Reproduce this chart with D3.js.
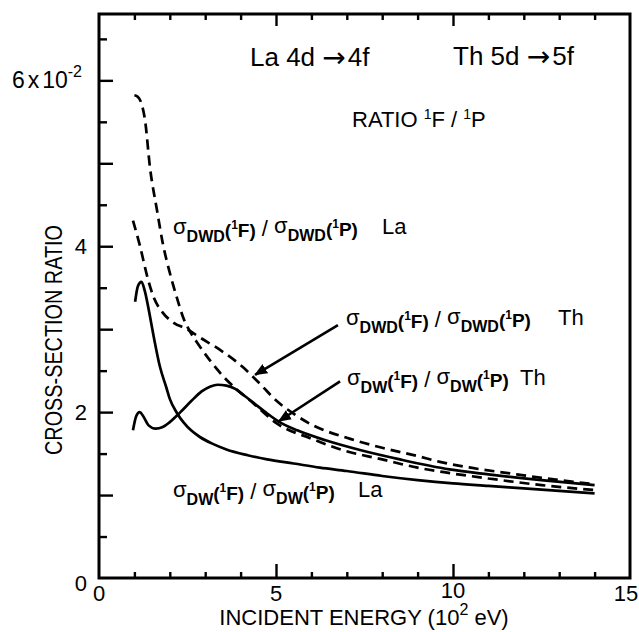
<!DOCTYPE html>
<html>
<head>
<meta charset="utf-8">
<script src="https://cdn.jsdelivr.net/npm/d3@7"></script>
<style>
  body { margin: 0; background: #fff; }
  svg { display: block; font-family: "Liberation Sans", Arial, Helvetica, sans-serif; }
</style>
</head>
<body>
<div id="chart"></div>
<script>
const width = 639,
  height = 632,
  margin = { top: 14, right: 9, bottom: 54, left: 99 };

// energy in units of 10^2 eV, ratio in units of 10^-2
const energyLaDWD = [1.0, 1.1, 1.2, 1.3, 1.44, 1.64, 1.8, 2.0, 2.2, 2.37, 2.6, 2.77, 3.14, 3.6, 3.9, 4.35, 5.0, 6.0, 6.9, 8.0, 9.0, 9.83, 11.0, 12.5, 14.0];
const ratioLaDWD = [5.82, 5.8, 5.72, 5.52, 4.95, 4.43, 4.04, 3.68, 3.38, 3.15, 2.95, 2.84, 2.62, 2.39, 2.27, 2.11, 1.87, 1.68, 1.54, 1.43, 1.33, 1.27, 1.2, 1.12, 1.06];

const energyThDWD = [0.96, 1.16, 1.36, 1.53, 1.8, 2.1, 2.49, 2.85, 3.42, 4.07, 4.55, 5.03, 5.5, 6.0, 7.0, 8.0, 9.0, 9.63, 10.5, 11.8, 13.0, 14.0];
const ratioThDWD = [4.31, 4.0, 3.64, 3.4, 3.2, 3.08, 3.0, 2.9, 2.75, 2.54, 2.34, 2.13, 1.98, 1.85, 1.69, 1.57, 1.47, 1.4, 1.33, 1.25, 1.18, 1.13];

const energyThDW = [0.96, 1.05, 1.15, 1.25, 1.4, 1.6, 1.8, 2.0, 2.3, 2.6, 2.9, 3.15, 3.35, 3.6, 3.85, 4.1, 4.4, 4.7, 5.1, 5.6, 6.4, 7.4, 8.5, 9.9, 11.0, 12.5, 14.0];
const ratioThDW = [1.78, 1.95, 2.0, 1.95, 1.84, 1.8, 1.82, 1.88, 2.0, 2.13, 2.25, 2.31, 2.33, 2.32, 2.28, 2.2, 2.1, 2.0, 1.88, 1.78, 1.66, 1.54, 1.43, 1.31, 1.25, 1.18, 1.12];

const energyLaDW = [1.02, 1.1, 1.2, 1.3, 1.42, 1.55, 1.72, 1.9, 2.0, 2.2, 2.4, 2.6, 2.85, 3.2, 3.6, 4.2, 4.75, 5.5, 6.24, 7.0, 8.0, 9.0, 10.0, 11.0, 12.0, 13.0, 14.0];
const ratioLaDW = [3.33, 3.52, 3.57, 3.45, 3.2, 2.9, 2.55, 2.3, 2.16, 1.99, 1.87, 1.78, 1.7, 1.62, 1.55, 1.48, 1.43, 1.38, 1.33, 1.29, 1.23, 1.18, 1.14, 1.11, 1.08, 1.05, 1.02];

const xTickLabels = [0, 5, 10, 15];
const yTickLabels = [0, 2, 4, 6];

const series = [
  { name: "La DWD", energy: energyLaDWD, ratio: ratioLaDWD, dashed: true },
  { name: "Th DWD", energy: energyThDWD, ratio: ratioThDWD, dashed: true },
  { name: "Th DW", energy: energyThDW, ratio: ratioThDW, dashed: false },
  { name: "La DW", energy: energyLaDW, ratio: ratioLaDW, dashed: false }
];

const xScale = d3.scaleLinear().domain([0, 15]).range([margin.left, width - margin.right]);
const yScale = d3.scaleLinear().domain([0, 6.8]).range([height - margin.bottom, margin.top]);

const svg = d3.select("#chart").append("svg")
  .attr("width", width)
  .attr("height", height);

// arrow head
svg.append("defs").append("marker")
  .attr("id", "head")
  .attr("markerUnits", "userSpaceOnUse")
  .attr("viewBox", "0 0 12 10")
  .attr("refX", 11)
  .attr("refY", 5)
  .attr("markerWidth", 13)
  .attr("markerHeight", 11)
  .attr("orient", "auto")
  .append("path")
  .attr("d", "M0,0 L12,5 L0,10 Z")
  .attr("fill", "#000");

// ticks (all inward)
const minorX = d3.range(1, 15).filter(d => d % 5 !== 0);
const majorX = [5, 10];
const minorY = d3.range(0.5, 6.8, 1);
const majorY = d3.range(1, 7, 1);

function tickAxis(axis, values, size) {
  return axis.tickValues(values).tickSize(size).tickFormat("");
}

const bottom = height - margin.bottom;
svg.append("g").attr("transform", `translate(0,${bottom})`).call(tickAxis(d3.axisBottom(xScale), minorX, -6));
svg.append("g").attr("transform", `translate(0,${bottom})`).call(tickAxis(d3.axisBottom(xScale), majorX, -14));
svg.append("g").attr("transform", `translate(0,${margin.top})`).call(tickAxis(d3.axisTop(xScale), minorX, -6));
svg.append("g").attr("transform", `translate(0,${margin.top})`).call(tickAxis(d3.axisTop(xScale), majorX, -12));
svg.append("g").attr("transform", `translate(${margin.left},0)`).call(tickAxis(d3.axisLeft(yScale), minorY, -8));
svg.append("g").attr("transform", `translate(${margin.left},0)`).call(tickAxis(d3.axisLeft(yScale), majorY, -14));

svg.selectAll(".domain").remove();
svg.selectAll(".tick line").attr("stroke", "#000").attr("stroke-width", 2.4);

// frame
svg.append("rect")
  .attr("x", xScale(0))
  .attr("y", yScale(6.8))
  .attr("width", xScale(15) - xScale(0))
  .attr("height", yScale(0) - yScale(6.8))
  .attr("fill", "none")
  .attr("stroke", "#000")
  .attr("stroke-width", 3);

// curves
const line = d3.line()
  .x(d => xScale(d[0]))
  .y(d => yScale(d[1]))
  .curve(d3.curveMonotoneX);

svg.selectAll(".curve")
  .data(series)
  .join("path")
  .attr("class", "curve")
  .attr("d", d => line(d3.zip(d.energy, d.ratio)))
  .attr("fill", "none")
  .attr("stroke", "#000")
  .attr("stroke-width", 2.7)
  .attr("stroke-dasharray", d => d.dashed ? "10,6" : null);

// tick labels
svg.selectAll(".xlab")
  .data(xTickLabels)
  .join("text")
  .attr("class", "xlab")
  .attr("x", d => d === 15 ? xScale(d) - 4 : xScale(d))
  .attr("y", d => d === 10 ? 598 : 601)
  .attr("text-anchor", "middle")
  .attr("font-size", 22)
  .text(d => d);

const ylab = svg.selectAll(".ylab")
  .data(yTickLabels)
  .join("text")
  .attr("class", "ylab")
  .attr("x", 87)
  .attr("y", d => yScale(d) + (d === 0 ? 13 : 8))
  .attr("text-anchor", "end")
  .attr("font-size", 22);
ylab.filter(d => d !== 6).text(d => d);
ylab.filter(d => d === 6)
  .attr("x", 82)
  .attr("font-size", 23)
  .call(t => {
    t.append("tspan").text("6");
    t.append("tspan").attr("dx", 3).text("x");
    t.append("tspan").attr("dx", 3).text("10");
    t.append("tspan").attr("font-size", 16).attr("dy", -11).text("-2");
  });

// axis titles
svg.append("text")
  .attr("x", 364)
  .attr("y", 625)
  .attr("text-anchor", "middle")
  .attr("font-size", 22)
  .call(t => {
    t.append("tspan").text("INCIDENT  ENERGY  (10");
    t.append("tspan").attr("font-size", 16).attr("dy", -10).text("2");
    t.append("tspan").attr("dy", 10).text(" eV)");
  });

svg.append("text")
  .attr("transform", "translate(62,340) rotate(-90)")
  .attr("text-anchor", "middle")
  .attr("font-size", 24)
  .attr("textLength", 230)
  .attr("lengthAdjust", "spacingAndGlyphs")
  .text("CROSS-SECTION RATIO");

// headings
function heading(x, y, left, right) {
  svg.append("text").attr("x", x).attr("y", y).attr("font-size", 26)
    .call(t => {
      t.append("tspan").text(left + " ");
      t.append("tspan").attr("font-family", "DejaVu Sans").attr("font-size", 28).attr("dy", 1).text("\u2192");
      t.append("tspan").attr("dy", -1).attr("dx", 2).text(right);
    });
}
heading(250, 66, "La 4d", "4f");
heading(453, 65, "Th 5d", "5f");

svg.append("text")
  .attr("x", 352)
  .attr("y", 127)
  .attr("font-size", 22)
  .call(t => {
    t.append("tspan").text("RATIO ");
    t.append("tspan").attr("font-size", 14).attr("dy", -8).text("1");
    t.append("tspan").attr("dy", 8).text("F / ");
    t.append("tspan").attr("font-size", 14).attr("dy", -8).text("1");
    t.append("tspan").attr("dy", 8).text("P");
  });

// curve labels
const curveLabels = [
  { sub: "DWD", atom: "La", x: 173, y: 234, atomX: 382 },
  { sub: "DWD", atom: "Th", x: 346, y: 325, atomX: 558 },
  { sub: "DW", atom: "Th", x: 347, y: 385, atomX: 520 },
  { sub: "DW", atom: "La", x: 173, y: 497, atomX: 358 }
];

function ratioPart(t, sub, state, first) {
  t.append("tspan").attr("font-size", 22).attr("font-weight", "normal").attr("dy", first ? 0 : -3).text("\u03c3");
  t.append("tspan").attr("font-size", 16).attr("font-weight", "bold").attr("dy", 8).text(sub);
  t.append("tspan").attr("font-size", 19).attr("font-weight", "bold").attr("dy", -5).text("(");
  t.append("tspan").attr("font-size", 12).attr("font-weight", "bold").attr("dy", -8).text("1");
  t.append("tspan").attr("font-size", 19).attr("font-weight", "bold").attr("dy", 8).text(state + ")");
}

curveLabels.forEach(d => {
  svg.append("text")
    .attr("x", d.x)
    .attr("y", d.y)
    .call(t => {
      ratioPart(t, d.sub, "F", true);
      t.append("tspan").attr("font-size", 22).attr("dy", -1).text(" / ");
      ratioPart(t, d.sub, "P", false);
    });
  svg.append("text")
    .attr("x", d.atomX)
    .attr("y", d.y)
    .attr("font-size", 22)
    .text(d.atom);
});

// arrows from labels to curves
const arrows = [
  { from: [6.75, 3.05], to: [4.41, 2.45] },
  { from: [6.81, 2.37], to: [5.08, 1.89] }
];

svg.selectAll(".arrow")
  .data(arrows)
  .join("line")
  .attr("class", "arrow")
  .attr("x1", d => xScale(d.from[0]))
  .attr("y1", d => yScale(d.from[1]))
  .attr("x2", d => xScale(d.to[0]))
  .attr("y2", d => yScale(d.to[1]))
  .attr("stroke", "#000")
  .attr("stroke-width", 2.6)
  .attr("marker-end", "url(#head)");
</script>
</body>
</html>
